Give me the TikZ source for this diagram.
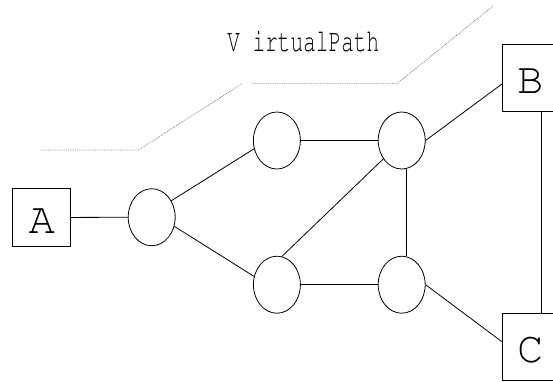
\documentclass[tikz,border=0pt]{standalone}
\usepackage[T1]{fontenc}
\usepackage{courier}
\usepackage{graphicx}
\usetikzlibrary{shapes.geometric}
\newcommand\netfont{\ttfamily}
\def\thickness{thick}
\tikzset{
router/.style={draw,ellipse,\thickness,inner sep=0pt,minimum width=47pt,minimum height=57pt},
host/.style 2 args={draw,rectangle,\thickness,inner sep=0pt,minimum width=#1,minimum height=#2,
	font=\netfont\fontsize{44}{46}\selectfont,text height=31pt,text depth=0pt},
vpath/.style={gray,densely dotted,line width=0.8pt},
}

\begin{document}
\begin{tikzpicture}[x=1pt,y=-1pt]
\useasboundingbox (0,0) rectangle (553,381);
%Place the nodes
\node[host={58pt}{58pt}] (A) at (41.7,217.5) {A};
\node[router] (r1) at (151.7,217.2) {};
\node[router] (r2) at (276.9,140.5) {};
\node[router] (r3) at (401.7,140.5) {};
\node[router] (r4) at (276.9,284.7) {};
\node[router] (r5) at (401.7,284.7) {};
\node[host={56pt}{67pt}] (B) at (530.3,78) {B};
\node[host={56pt}{67pt}] (C) at (530.3,346.7) {C};

\node[anchor=base,font=\netfont\fontsize{32}{34}\selectfont] (vp) at (303.3,51.7) {\scalebox{0.66}[1]{V irtualPath}};

%
\coordinate (p0) at (41,150);
\coordinate (p1) at (138.3,150);
\coordinate (p2) at (242.7,83.3);
\coordinate (p3) at (251.7,83.3);
\coordinate (p4) at (397.5,83.3);
\coordinate (p5) at (493,6);
\draw[vpath] (p0) -- (p1) -- (p2);
\draw[vpath] (p3) -- (p4) -- (p5);

%
\draw[\thickness] (A) -- (r1);
\draw[\thickness] (r1.40) -- (r2.200);
\draw[\thickness] (r1.-22) -- (r4.160);
\draw[\thickness] (r2) -- (r3);
\draw[\thickness] (r4) -- (r5);
\draw[\thickness] (r4.80) -- (r3.225);
\draw[\thickness] (r3.-80) -- (r5.80);

%
\draw[\thickness] (r3.east) -- ([yshift=-6pt]B.west);
\draw[\thickness] (r5.east) -- ([yshift=5pt]C.west);
\draw[\thickness] ([xshift=11pt]B.south) -- ([xshift=11pt]C.north);

\end{tikzpicture}
\end{document}
